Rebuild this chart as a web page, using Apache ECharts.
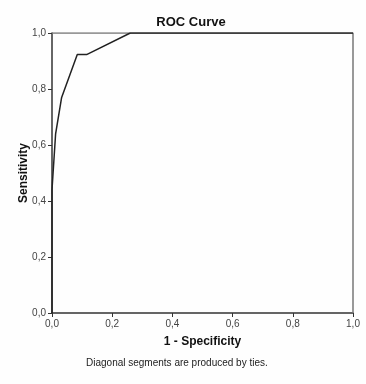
<!DOCTYPE html>
<html><head><meta charset="utf-8">
<script src="https://cdn.jsdelivr.net/npm/echarts@6/dist/echarts.min.js"></script>
<style>html,body{margin:0;padding:0;background:#fff}#c{width:366px;height:384px}</style>
</head><body><div id="c"></div>
<script>
var fpr = [0, 0, 0.012, 0.032, 0.084, 0.115, 0.26, 1.0];
var tpr = [0, 0.44, 0.64, 0.77, 0.923, 0.923, 1.0, 1.0];
var ticks = [0, 0.2, 0.4, 0.6, 0.8, 1.0];
var fmt = function(v){ return v.toFixed(1).replace('.', ','); };
var chart = echarts.init(document.getElementById('c'));
var font = '"Liberation Sans", Arial, sans-serif';
chart.setOption({
  animation: false,
  backgroundColor: '#fefefe',
  title: {text: 'ROC Curve', left: 186, textAlign: 'center', top: 11,
    textStyle: {fontFamily: font, fontSize: 13, fontWeight: 'bold', color: '#111'}},
  graphic: [{type: 'text', left: 86, top: 358, style: {text: 'Diagonal segments are produced by ties.',
    font: '10px ' + font, fill: '#222'}}],
  grid: {left: 52, right: 13, top: 33, bottom: 71},
  xAxis: {type: 'value', min: 0, max: 1, interval: 0.2,
    name: '1 - Specificity', nameLocation: 'middle', nameGap: 23, nameMoveOverlap: false,
    nameTextStyle: {fontFamily: font, fontSize: 12, fontWeight: 'bold', color: '#111'},
    axisLine: {lineStyle: {color: '#333', width: 1.5}},
    axisTick: {length: 4, lineStyle: {color: '#333'}},
    axisLabel: {formatter: fmt, fontFamily: font, fontSize: 10, color: '#444', margin: 6},
    splitLine: {show: false}},
  yAxis: {type: 'value', min: 0, max: 1, interval: 0.2,
    name: 'Sensitivity', nameLocation: 'middle', nameGap: 22, nameMoveOverlap: false,
    nameTextStyle: {fontFamily: font, fontSize: 12, fontWeight: 'bold', color: '#111'},
    axisLine: {lineStyle: {color: '#333', width: 1.5}},
    axisTick: {length: 4, lineStyle: {color: '#333'}},
    axisLabel: {formatter: fmt, fontFamily: font, fontSize: 10, color: '#444', margin: 6},
    splitLine: {show: false}},
  series: [
    {type: 'line', data: fpr.map(function(x,i){return [x, tpr[i]];}), symbol: 'none',
      lineStyle: {color: '#222', width: 1.5}, z: 3},
    {type: 'line', data: [[0,1],[1,1],[1,0]], symbol: 'none', silent: true,
      lineStyle: {color: '#777', width: 1.5}, z: 1}
  ]
});
</script></body></html>
